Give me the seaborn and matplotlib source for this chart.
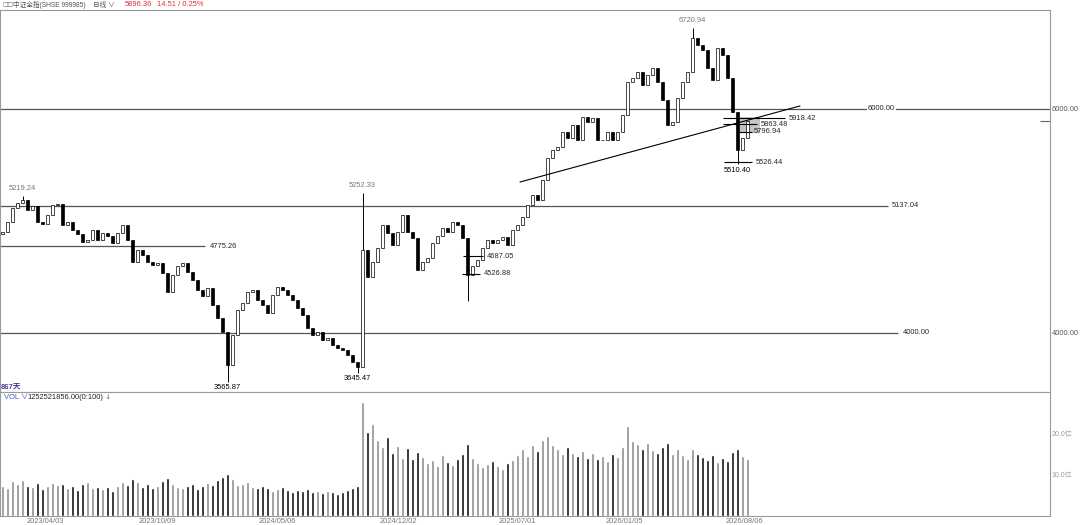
import numpy as np
import pandas as pd
import matplotlib
matplotlib.use('Agg')
import matplotlib.pyplot as plt
import seaborn as sns

closes = [4902, 4991, 5116, 5161, 5188, 5098, 5134, 4991, 4973, 5054, 5143, 5152,
          4964, 4991, 4920, 4884, 4812, 4830, 4920, 4830, 4893, 4866, 4804, 4893,
          4964, 4830, 4634, 4741, 4696, 4634, 4607, 4625, 4536, 4366, 4518, 4598,
          4625, 4545, 4473, 4384, 4330, 4402, 4250, 4134, 4009, 3714, 3982, 4205,
          4268, 4366, 4384, 4295, 4250, 4179, 4339, 4411, 4384, 4339, 4295, 4223,
          4161, 4045, 3982, 4009, 3938, 3955, 3893, 3866, 3848, 3804, 3741, 3700,
          4741, 4500, 4634, 4759, 4964, 4893, 4786, 4902, 5054, 4902, 4848, 4563,
          4634, 4670, 4804, 4866, 4938, 4902, 4991, 4964, 4848, 4518, 4598, 4652,
          4759, 4830, 4804, 4830, 4857, 4786, 4920, 4964, 5036, 5143, 5232, 5188,
          5366, 5563, 5634, 5661, 5795, 5741, 5857, 5723, 5929, 5884, 5920, 5723,
          5723, 5795, 5723, 5795, 5946, 6241, 6277, 6330, 6214, 6304, 6366, 6241,
          6080, 5857, 5884, 6098, 6241, 6330, 6634, 6571, 6527, 6366, 6259, 6545,
          6482, 6277, 5973, 5634, 5741, 5896.36]
first_open = 4880

# volume in 亿
vol_yi = [7.2, 6.8, 8.5, 7.9, 8.8, 7.4, 7.0, 8.1, 6.6, 7.3, 8.0, 7.5,
          7.8, 6.9, 7.2, 6.4, 7.7, 8.3, 6.8, 7.0, 6.5, 7.1, 6.2, 7.4,
          8.2, 7.6, 9.0, 8.4, 7.1, 7.8, 6.9, 7.3, 8.6, 9.2, 7.7, 7.0,
          6.8, 7.4, 7.9, 6.6, 7.2, 8.0, 7.5, 8.8, 9.4, 10.2, 8.9, 7.6,
          7.8, 8.4, 7.1, 6.7, 7.3, 6.9, 6.2, 6.6, 7.0, 6.4, 5.9, 6.3,
          6.0, 6.5, 5.8, 6.2, 5.6, 6.1, 5.9, 5.4, 5.8, 6.3, 6.8, 7.2,
          27.8,
          20.5, 22.4, 18.6, 16.8, 19.2, 15.4, 17.1, 14.2, 16.5, 13.8, 15.6,
          14.4, 12.9, 13.6, 12.1, 14.8, 13.2, 12.5, 13.9, 15.1, 17.6, 14.2, 12.8,
          11.9, 12.6, 13.4, 12.2, 11.5, 12.8, 13.7, 14.9, 16.2, 14.6, 17.3, 15.8,
          18.5, 19.6, 17.2, 16.4, 15.1, 16.8, 15.3, 14.6, 15.9, 14.1, 15.4, 13.8,
          14.7, 13.5, 15.2, 14.4, 16.9, 21.8, 18.2, 17.5, 16.3, 17.8, 16.1, 15.4,
          16.7, 17.9, 15.2, 16.4, 14.8, 13.9, 16.2, 15.0, 14.3, 13.6, 14.9, 13.2,
          14.1, 13.4, 15.6, 16.2, 14.5, 13.8]

# extreme wicks (index -> price)
high_marks = {4: 5219.24, 72: 5252.33, 138: 6720.94}
low_marks = {45: 3565.87, 71: 3645.47, 93: 4290.00, 147: 5510.40}

tick_labels = ['2023/04/03', '2023/10/09', '2024/05/06', '2024/12/02',
               '2025/07/01', '2026/01/05', '2026/08/06']

sns.set_style('white')
plt.rcParams['font.family'] = ['Liberation Sans', 'Noto Sans CJK SC', 'DejaVu Sans']
fs = 5.4

df = pd.DataFrame({'close': closes, 'vol': vol_yi})
df['idx'] = np.arange(len(df))
df['open'] = [first_open] + closes[:-1]
df['high'] = df[['open', 'close']].max(axis=1)
df['low'] = df[['open', 'close']].min(axis=1)
for k, v in high_marks.items():
    df.loc[k, 'high'] = v
for k, v in low_marks.items():
    df.loc[k, 'low'] = v
df['dir'] = np.where(df['close'] >= df['open'], 'up', 'down')

def px(p):
    # pixel column -> index units
    return p / 5 - 0.5

fig = plt.figure(figsize=(10.8, 5.25), dpi=100)
ax = fig.add_axes([0, 1 - 392 / 525, 1050 / 1080, 382 / 525])
axv = fig.add_axes([0, 1 - 516 / 525, 1050 / 1080, 124 / 525])

# candles
ax.vlines(df['idx'], df['low'], df['high'], color='black', lw=0.7, zorder=3)
body = (df['close'] - df['open']).abs().clip(lower=4)
ax.bar(df['idx'], body, bottom=df[['open', 'close']].min(axis=1), width=0.6,
       color=np.where(df['dir'] == 'up', 'white', 'black'), edgecolor='black',
       linewidth=0.5, zorder=4)

ax.set_xlim(-0.5, 209.5)
ax.set_ylim(3473, 6884)

line_c = '#555555'
ax.axhline(6000, color=line_c, lw=0.9, zorder=1)
ax.text(px(868), 6000, '6000.00', fontsize=fs, va='center', ha='left',
        bbox=dict(fc='white', ec='none', pad=0.5), zorder=2)
ax.hlines(5137.04, -0.5, px(888), color=line_c, lw=0.9)
ax.text(px(892), 5137.04, '5137.04', fontsize=fs, va='center')
ax.hlines(4000, -0.5, px(898), color=line_c, lw=0.9)
ax.text(px(903), 4000, '4000.00', fontsize=fs, va='center')
ax.hlines(4775.26, -0.5, px(205), color=line_c, lw=0.9)
ax.text(px(210), 4775.26, '4775.26', fontsize=fs, va='center')

# short marks
for y, x0, x1, xt in [(4687.05, 463, 483, 487), (4526.88, 462, 480, 484),
                      (5918.42, 723, 785, 789), (5863.48, 723, 757, 761),
                      (5796.94, 738, 752, 754), (5526.44, 724, 752, 756)]:
    ax.hlines(y, px(x0), px(x1), color='black', lw=0.8, zorder=5)
    ax.text(px(xt), y, f'{y:.2f}', fontsize=fs, va='center', zorder=6)

ax.fill_between([px(740), px(760)], 5786, 5928, color='#c4c4c4', lw=0, zorder=2)

# trend line
ax.plot([px(520), px(800)], [5348, 6027], color='black', lw=0.8, zorder=5)

# extreme labels
for k, v in high_marks.items():
    ax.annotate(f'{v:.2f}', (k, v), xytext=(0, 3), textcoords='offset points',
                ha='center', va='bottom', fontsize=fs, color='#777777')
for k, v in low_marks.items():
    if k == 93:
        continue
    ax.annotate(f'{v:.2f}', (k, v), xytext=(0, -2), textcoords='offset points',
                ha='center', va='top', fontsize=fs, color='black')

ax.hlines(closes[-1], px(1040), px(1050), color='#666666', lw=0.8)

ax.yaxis.tick_right()
ax.set_yticks([4000, 6000])
ax.set_yticklabels(['4000.00', '6000.00'])
ax.tick_params(axis='y', length=0, pad=1, labelsize=fs, labelcolor='#555555')
ax.set_xticks([])
for s in ax.spines.values():
    s.set_color('#999999')
    s.set_linewidth(0.8)
ax.text(0.001, 0.002, '867天', transform=ax.transAxes, fontsize=5.5, color='#4a3f9f',
        va='bottom', ha='left', fontweight='bold')

# volume
sns.barplot(data=df, x='idx', y='vol', hue='dir', palette={'up': '#8f8f8f', 'down': '#111111'},
            dodge=False, native_scale=True, width=0.75, errorbar=None, legend=False,
            saturation=1, ax=axv)
axv.set_xlim(-0.5, 209.5)
axv.set_ylim(0, 30.2)
axv.set_xlabel('')
axv.set_ylabel('')
axv.yaxis.tick_right()
axv.set_yticks([10, 20])
axv.set_yticklabels(['10.0亿', '20.0亿'])
axv.tick_params(axis='y', length=0, pad=1, labelsize=5, labelcolor='#9a9a9a')
axv.set_xticks([px(p) for p in [45, 157, 277, 398, 517, 624, 744]])
axv.set_xticklabels(tick_labels)
axv.tick_params(axis='x', length=0, pad=1.5, labelsize=fs, labelcolor='#777777')
for s in axv.spines.values():
    s.set_color('#999999')
    s.set_linewidth(0.8)
axv.text(4 / 1050, 0.985, 'VOL ∨', transform=axv.transAxes, fontsize=fs, color='#3a5fbf',
         va='top')
axv.text(27 / 1050, 0.985, '1252521856.00(0:100)', transform=axv.transAxes, fontsize=fs,
         color='#222222', va='top')
axv.text(104 / 1050, 0.985, '↓', transform=axv.transAxes, fontsize=fs, color='#2a9a2a',
         va='top', family=['DejaVu Sans'])

# header
hy = 1 - 5 / 525
fig.text(2 / 1080, hy, '□□', fontsize=4.2, color='#666666', va='center',
         family=['DejaVu Sans', 'Noto Sans CJK SC'])
fig.text(13 / 1080, hy, '中证全指(SHSE 999985)', fontsize=4.8, color='#555555', va='center')
fig.text(93 / 1080, hy, '日线 ∨', fontsize=4.8, color='#555555', va='center')
fig.text(125 / 1080, hy, '5896.36', fontsize=fs, color='#e03030', va='center')
fig.text(157 / 1080, hy, '14.51 / 0.25%', fontsize=fs, color='#e03030', va='center')

fig.savefig('out.png', dpi=100, facecolor='white')
